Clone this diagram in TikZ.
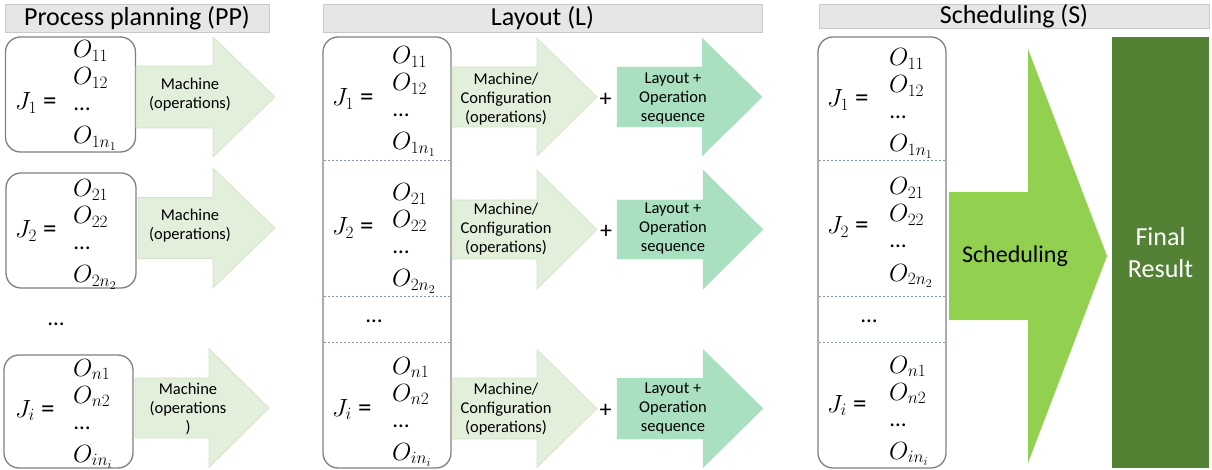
\documentclass[tikz,border=0pt]{standalone}
\usepackage{fontspec}
\setmainfont{Carlito}
% larger subscripts for the job and operation labels
\DeclareMathSizes{23}{23}{16.5}{12}
\DeclareMathSizes{27}{27}{19}{14}

\definecolor{barfill}{HTML}{E7E6E6}
\definecolor{barline}{HTML}{C9C9C9}
\definecolor{boxline}{HTML}{808080}
\definecolor{sepline}{HTML}{8497B0}
\definecolor{palegreen}{HTML}{E2EFDA}
\definecolor{paleedge}{HTML}{D3E2C8}
\definecolor{mintgreen}{HTML}{A8E0C0}
\definecolor{limegreen}{HTML}{92D050}
\definecolor{darkgreen}{HTML}{548235}

% one job: J label, then its operation column
% #1 name, #2 x of J, #3 y of J, #4 x of column, #5 y of first row,
% #6 job index, #7/#8/#9 subscripts of first, second and last operation
\newcommand\jobgroup[9]{%
  \node[jlabel, anchor=base west] (#1J) at (#2,#3+9) {$J_{#6}$ =};
  \node[olabel, anchor=base west] (#1a) at (#4,#5+8) {$O_{#7}$};
  \node[olabel, anchor=base west] (#1b) at (#4,#5+35) {$O_{#8}$};
  \node[olabel, anchor=base west] (#1c) at (#4+1,#5+61) {…};
  \node[olabel, anchor=base west] (#1d) at (#4,#5+94) {$O_{#9}$};
}

% block arrow: #1 style, #2 tail x, #3 head start x, #4 tip x,
% #5 axis y, #6 half body height, #7 half head height
\newcommand\blockarrow[7]{%
  \filldraw[#1] (#2,#5-#6) -- (#3,#5-#6) -- (#3,#5-#7) -- (#4,#5)
    -- (#3,#5+#7) -- (#3,#5+#6) -- (#2,#5+#6) -- cycle;
}

\begin{document}
\begin{tikzpicture}[x=1pt,y=-1pt,
  titlebar/.style={draw=barline, fill=barfill, line width=0.8pt, inner sep=0pt,
    font=\fontsize{26}{28}\selectfont},
  jobbox/.style={draw=boxline, line width=1.3pt, rounded corners=15pt, fill=white, inner sep=0pt},
  jlabel/.style={inner sep=0pt, font=\fontsize{27}{29}\selectfont},
  olabel/.style={inner sep=0pt, font=\fontsize{23}{25}\selectfont},
  dotsep/.style={draw=sepline, line width=0.7pt, dash pattern=on 2.5pt off 1.5pt},
  palearrow/.style={fill=palegreen, draw=paleedge, line width=0.6pt},
  mintarrow/.style={fill=mintgreen, draw=mintgreen},
  arrowtext/.style={inner sep=0pt, align=center, font=\fontsize{16.5}{19}\selectfont},
  plus/.style={inner sep=0pt, font=\fontsize{24}{24}\selectfont},
]
\useasboundingbox (0,0) rectangle (1212,470);

% ---- column titles
\node[titlebar, minimum width=264pt, minimum height=28pt] (ppTitle) at (137,18) {Process planning (PP)};
\node[titlebar, minimum width=439pt, minimum height=28pt] (lTitle) at (542.5,18) {Layout (L)};
\node[titlebar, minimum width=390pt, minimum height=24pt] (sTitle) at (1014,16) {Scheduling (S)};

% ---- process planning: one box per job
\node[jobbox, minimum width=130pt, minimum height=115pt] (pp1) at (70.5,94.5) {};
\node[jobbox, minimum width=130pt, minimum height=115pt] (pp2) at (71,230.5) {};
\node[jobbox, minimum width=129pt, minimum height=113pt] (pp3) at (68.5,411.5) {};

\jobgroup{ppA}{15}{101}{73}{50}{1}{11}{12}{1n_1}
\jobgroup{ppB}{15}{229}{73}{189}{2}{21}{22}{2n_2}
\jobgroup{ppC}{15}{408}{73}{368}{i}{n1}{n2}{in_i}
\node[olabel, anchor=base] (ppDots) at (56,325) {…};

\blockarrow{palearrow}{136}{213}{275}{97}{31}{60}
\blockarrow{palearrow}{138}{213}{275}{228}{30.5}{60}
\blockarrow{palearrow}{135}{209}{269}{408}{30}{59.5}
\node[arrowtext] (ppM1) at (190,95) {Machine\\(operations)};
\node[arrowtext] (ppM2) at (190,226) {Machine\\(operations)};
\node[arrowtext] (ppM3) at (188,409) {Machine\\(operations\\)};

% ---- layout: one tall box, jobs split by dashed lines
\node[jobbox, minimum width=128pt, minimum height=431pt] (lBox) at (387,252.5) {};
\draw[dotsep] (323.6,160) -- (450.4,160);
\draw[dotsep] (323.6,296) -- (450.4,296);
\draw[dotsep] (323.6,342) -- (450.4,342);

\jobgroup{lA}{332}{97}{392}{56}{1}{11}{12}{1n_1}
\jobgroup{lB}{332}{226}{392}{193}{2}{21}{22}{2n_2}
\jobgroup{lC}{332}{407}{392}{366}{i}{n1}{n2}{in_i}
\node[olabel, anchor=base] (lDots) at (374,322) {…};

\blockarrow{palearrow}{452}{537}{597}{97}{30}{59}
\blockarrow{mintarrow}{617}{702}{762}{97}{30}{59}
\blockarrow{palearrow}{452}{537}{597}{229.5}{29.5}{59.5}
\blockarrow{mintarrow}{617}{703}{763}{229.5}{29.5}{59.5}
\blockarrow{palearrow}{452}{537}{597}{408.5}{30.5}{59}
\blockarrow{mintarrow}{617}{703}{763}{408.5}{30.5}{59}

\node[arrowtext] (lM1) at (506,99) {Machine/\\Configuration\\(operations)};
\node[arrowtext] (lS1) at (673,99) {Layout +\\Operation\\sequence};
\node[plus] (lP1) at (605.5,100) {+};
\node[arrowtext] (lM2) at (506,229) {Machine/\\Configuration\\(operations)};
\node[arrowtext] (lS2) at (673,229) {Layout +\\Operation\\sequence};
\node[plus] (lP2) at (606,232) {+};
\node[arrowtext] (lM3) at (506,409) {Machine/\\Configuration\\(operations)};
\node[arrowtext] (lS3) at (673,409) {Layout +\\Operation\\sequence};
\node[plus] (lP3) at (605.5,411) {+};

% ---- scheduling
\node[jobbox, minimum width=128pt, minimum height=431pt] (sBox) at (882,252.5) {};
\draw[dotsep] (818.6,160) -- (945.4,160);
\draw[dotsep] (818.6,296) -- (945.4,296);
\draw[dotsep] (818.6,342) -- (945.4,342);

\jobgroup{sA}{827}{98}{889}{58}{1}{11}{12}{1n_1}
\jobgroup{sB}{827}{225}{889}{187}{2}{21}{22}{2n_2}
\jobgroup{sC}{827}{403}{889}{365}{i}{n1}{n2}{in_i}
\node[olabel, anchor=base] (sDots) at (869,322) {…};

\fill[limegreen] (949,192) -- (1028,192) -- (1028,49) -- (1107,256)
  -- (1028,463) -- (1028,320) -- (949,320) -- cycle;
\node[inner sep=0pt, font=\fontsize{24}{26}\selectfont] (sched) at (1015,256) {Scheduling};

\node[fill=darkgreen, minimum width=97pt, minimum height=431pt, inner sep=0pt,
  text=white, align=center, font=\fontsize{26}{32}\selectfont] (final) at (1160.5,252.5) {Final\\Result};
\end{tikzpicture}
\end{document}
